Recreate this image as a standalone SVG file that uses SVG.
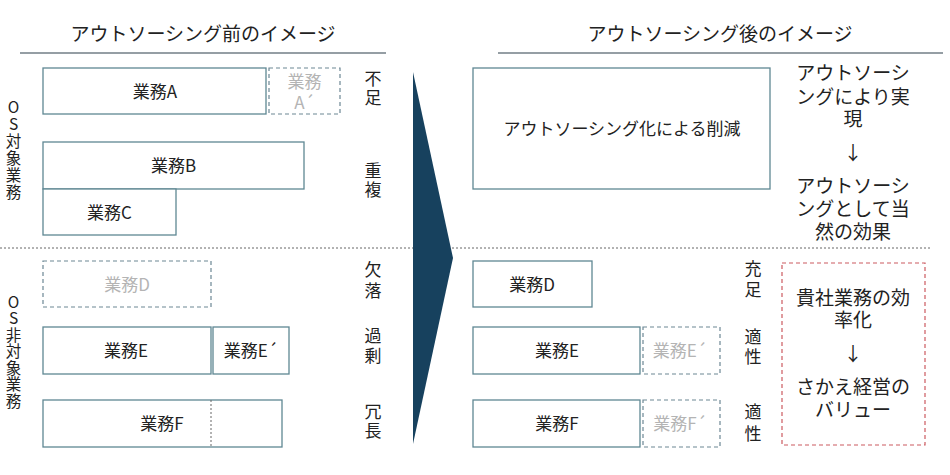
<svg xmlns="http://www.w3.org/2000/svg" width="950" height="475" viewBox="0 0 950 475">
<style>
text{font-family:"Noto Sans CJK JP","Noto Sans",sans-serif;fill:#222;dominant-baseline:central;text-anchor:middle}
.t{font-size:19px}
.lb{font-size:17px}
.v{writing-mode:vertical-rl;text-orientation:upright}
.sd{font-size:17px}
.vt{font-size:15.5px}
.rt{font-size:19px}
.g{fill:#b4b4b4}
.box{fill:#fff;stroke:#5f8793;stroke-width:1.3}
.dbox{fill:#fff;stroke:#6c8794;stroke-width:1.2;stroke-dasharray:4 3}
.rbox{fill:#fff;stroke:#cc5a60;stroke-width:1.2;stroke-dasharray:4 3}
.rule{stroke:#2d3f4b;stroke-width:1.2}
.dot{stroke:#666;stroke-width:1;stroke-dasharray:2 2;fill:none}
</style>
<rect width="950" height="475" fill="#fff"/>

<g id="titles">
<text class="t" x="203" y="32">アウトソーシング前のイメージ</text>
<line class="rule" x1="20" y1="53" x2="386" y2="53"/>
<text class="t" x="720" y="32">アウトソーシング後のイメージ</text>
<line class="rule" x1="498" y1="53" x2="943" y2="53"/>
</g>

<g id="connectors">
<line class="dot" x1="0" y1="248" x2="930" y2="248"/>
<polygon id="arrow" points="413,72 453,258 413,444" fill="#17415e"/>
</g>

<g id="label-os">
<text class="vt v" x="13.5" y="150" letter-spacing="1.5">OS対象業務</text>
</g>
<g id="label-nonos">
<text class="vt v" x="13.5" y="352" letter-spacing="1">OS非対象業務</text>
</g>

<g id="before-A">
<rect class="box" x="43" y="68" width="223" height="46"/>
<text class="lb" x="155" y="90">業務A</text>
</g>
<g id="before-A2">
<rect class="dbox" x="269" y="68" width="71" height="46"/>
<text class="lb g"><tspan x="304.5" y="80">業務</tspan><tspan x="304.5" y="101">A´</tspan></text>
</g>
<g id="before-B">
<rect class="box" x="43" y="142" width="261" height="47"/>
<text class="lb" x="173.5" y="164">業務B</text>
</g>
<g id="before-C">
<rect class="box" x="43" y="189" width="133" height="46"/>
<text class="lb" x="109.5" y="211">業務C</text>
</g>
<g id="before-D">
<rect class="dbox" x="43" y="261" width="168" height="46"/>
<text class="lb g" x="127" y="283">業務D</text>
</g>
<g id="before-E">
<rect class="box" x="43" y="327" width="168" height="47"/>
<text class="lb" x="126" y="349">業務E</text>
</g>
<g id="before-E2">
<rect class="box" x="213" y="327" width="76" height="47"/>
<text class="lb" x="251" y="349">業務E´</text>
</g>
<g id="before-F">
<rect class="box" x="43" y="400" width="239" height="47"/>
<line class="dot" x1="211" y1="400" x2="211" y2="447"/>
<text class="lb" x="162" y="422">業務F</text>
</g>

<g id="notes-before">
<text class="sd v" x="373" y="89.5" letter-spacing="2">不足</text>
<text class="sd v" x="373" y="181.5" letter-spacing="2">重複</text>
<text class="sd v" x="373" y="282" letter-spacing="4">欠落</text>
<text class="sd v" x="373" y="347.5" letter-spacing="3">過剰</text>
<text class="sd v" x="373" y="422.5" letter-spacing="2">冗長</text>
</g>

<g id="after-reduction">
<rect class="box" x="473" y="68" width="297" height="121"/>
<text class="lb" x="622" y="127">アウトソーシング化による削減</text>
</g>
<g id="after-D">
<rect class="box" x="473" y="261" width="119" height="46"/>
<text class="lb" x="532" y="283">業務D</text>
</g>
<g id="after-E">
<rect class="box" x="473" y="327" width="167" height="47"/>
<text class="lb" x="557" y="349">業務E</text>
</g>
<g id="after-E2">
<rect class="dbox" x="643" y="327" width="77" height="47"/>
<text class="lb g" x="680" y="349">業務E´</text>
</g>
<g id="after-F">
<rect class="box" x="473" y="400" width="167" height="47"/>
<text class="lb" x="557" y="422">業務F</text>
</g>
<g id="after-F2">
<rect class="dbox" x="643" y="400" width="77" height="47"/>
<text class="lb g" x="680" y="422">業務F´</text>
</g>

<g id="notes-after">
<text class="sd v" x="753" y="281.5" letter-spacing="4">充足</text>
<text class="sd v" x="753" y="348.5" letter-spacing="3">適性</text>
<text class="sd v" x="753" y="425.5" letter-spacing="5">適性</text>
</g>

<g id="effect-text">
<text class="rt"><tspan x="853" y="71">アウトソーシ</tspan><tspan x="853" y="95">ングにより実</tspan><tspan x="853" y="117">現</tspan><tspan x="853" y="151">↓</tspan><tspan x="853" y="184">アウトソーシ</tspan><tspan x="853" y="207">ングとして当</tspan><tspan x="853" y="230">然の効果</tspan></text>
</g>

<g id="value-box">
<rect class="rbox" x="782" y="263" width="143" height="182"/>
<text class="rt"><tspan x="853" y="296">貴社業務の効</tspan><tspan x="853" y="318">率化</tspan><tspan x="853" y="352">↓</tspan><tspan x="853" y="385">さかえ経営の</tspan><tspan x="853" y="408">バリュー</tspan></text>
</g>
</svg>
